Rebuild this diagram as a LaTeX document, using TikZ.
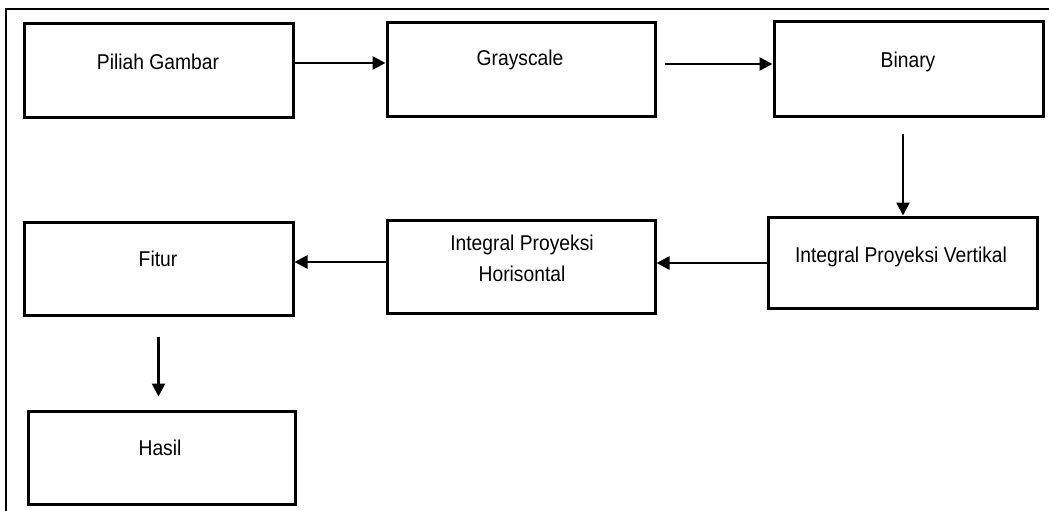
\documentclass[tikz,border=0pt]{standalone}
\usepackage{fontspec}
\setmainfont{Liberation Sans}[FakeStretch=0.9]
\usetikzlibrary{arrows.meta,calc}
\begin{document}
\begin{tikzpicture}[x=1pt,y=-1pt,
  box/.style={draw=black,line width=3pt,rectangle,minimum width=#1,minimum height=93pt,inner sep=0pt},
  box/.default=269pt,
  lbl/.style={font=\fontsize{21.4}{31}\selectfont,align=center,text=black,inner sep=0pt},
  arr/.style={line width=2.6pt,-{Triangle[length=13pt,width=13pt]}},
  frame/.style={line width=2.2pt}]
\useasboundingbox (0,0) rectangle (1049,511);
\draw[frame] (6,511) -- (6,9) -- (1049,9);
% boxes
\node[box=269pt] (n1) at (158.5,70.5) {};
\node[box=268pt] (n2) at (521,69.5) {};
\node[box=269pt,minimum height=94pt] (n3) at (908.5,69) {};
\node[box=269pt,minimum height=91pt] (n4) at (902.5,262.5) {};
\node[box=268pt] (n5) at (521,266.5) {};
\node[box=269pt] (n6) at (158.5,268.5) {};
\node[box=267pt] (n7) at (161.5,457.5) {};
% labels
\node[lbl] (t1) at (158,62) {Piliah Gambar};
\node[lbl] (t2) at (520,60) {Grayscale};
\node[lbl] (t3) at (908,62) {Binary};
\node[lbl] (t4) at (901,257) {Integral Proyeksi Vertikal};
\node[lbl] (t5) at (522,258.5) {Integral Proyeksi\\Horisontal};
\node[lbl] (t6) at (158,259) {Fitur};
\node[lbl] (t7) at (160,448) {Hasil};
% connectors
\coordinate (a2s) at ($(n2.east)+(8,-5.5)$);
\coordinate (a3s) at ($(n3.south)+(-5.5,16)$);
\coordinate (a6s) at ($(n6.south)+(0,20)$);
\coordinate (a6e) at ($(n7.north)+(-3.5,-13)$);
\draw[arr] (n1.east |- 0,63) -- (n2.west |- 0,63);
\draw[arr] (a2s) -- (n3.west |- a2s);
\draw[arr] (a3s) -- (a3s |- n4.north);
\draw[arr] (n4.west |- 0,263) -- (n5.east |- 0,263);
\draw[arr] (n5.west |- 0,262) -- (n6.east |- 0,262);
\draw[arr] (a6s) -- (a6s |- a6e);
\end{tikzpicture}
\end{document}
